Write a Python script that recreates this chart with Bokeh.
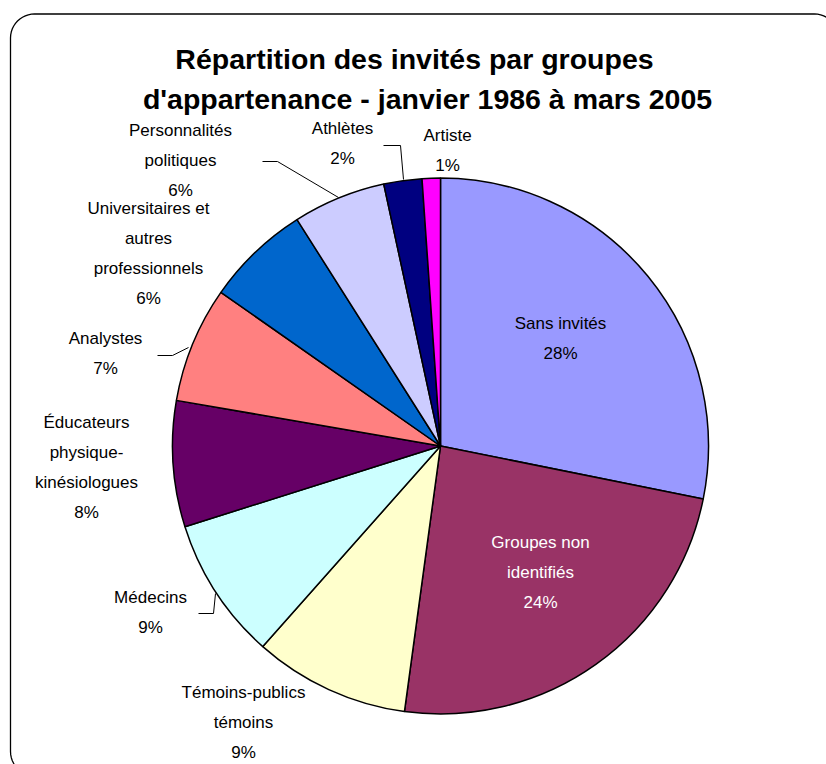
import math
from bokeh.plotting import figure
from bokeh.models import Range1d, ColumnDataSource
from bokeh.core.properties import value
from bokeh.embed import file_html
from bokeh.resources import INLINE

# ---- data ----
categories = ["Sans invités", "Groupes non\nidentifiés", "Témoins-publics\ntémoins", "Médecins",
              "Éducateurs\nphysique-\nkinésiologues", "Analystes",
              "Universitaires et\nautres\nprofessionnels", "Personnalités\npolitiques",
              "Athlètes", "Artiste"]
shares = [28.2, 24.0, 9.4, 8.6, 7.6, 7.0, 6.3, 5.6, 2.3, 1.1]
colors = ["#9999FF", "#993366", "#FFFFCC", "#CCFFFF", "#660066", "#FF8080",
          "#0066CC", "#CCCCFF", "#000080", "#FF00FF"]
title_lines = ["Répartition des invités par groupes", "d'appartenance - janvier 1986 à mars 2005"]

# ---- layout (page pixel coordinates) ----
W, H = 826, 764
PAGE_H = 764
def Y(py):
    return PAGE_H - py

cx, cy, R = 440, Y(445.5), 268

label_pos = {  # center x, first line center y (page px)
    0: (560, 323), 1: (540, 542), 2: (243, 692), 3: (150, 597), 4: (86, 422),
    5: (105, 338), 6: (148, 208), 7: (180, 130), 8: (342, 128), 9: (447, 135),
}
label_color = {1: "white"}
LINE_H = 30

leaders = [
    [(262, 161), (277, 161), (338, 197)],
    [(383, 145), (400, 145), (403, 179)],
    [(157, 355), (172, 355), (188, 347)],
    [(198, 613), (213, 613), (215, 593)],
]

p = figure(width=W, height=H, output_backend="svg", toolbar_location=None,
           x_range=Range1d(0, W), y_range=Range1d(Y(H), Y(0)),
           min_border=0, background_fill_color="white", border_fill_color="white")
p.axis.visible = False
p.grid.visible = False
p.outline_line_color = None

# rounded border
def rounded_rect(x0, y0, x1, y1, r, n=12):
    xs, ys = [], []
    corners = [((x1 - r, y0 + r), -90, 0), ((x1 - r, y1 - r), 0, 90),
               ((x0 + r, y1 - r), 90, 180), ((x0 + r, y0 + r), 180, 270)]
    for (ccx, ccy), a0, a1 in corners:
        for k in range(n + 1):
            a = math.radians(a0 + (a1 - a0) * k / n)
            xs.append(ccx + r * math.cos(a))
            ys.append(Y(ccy + r * math.sin(a)))
    xs.append(xs[0]); ys.append(ys[0])
    return xs, ys

bx, by = rounded_rect(10, 13.5, 838, 775, 24)
p.line(bx, by, line_color="black", line_width=1.3)

# wedges
total = sum(shares)
starts, ends = [], []
cum = 0.0
for v in shares:
    a_start = math.radians(90 - (cum + v) / total * 360)
    a_end = math.radians(90 - cum / total * 360)
    starts.append(a_start); ends.append(a_end)
    cum += v

src = ColumnDataSource(dict(start=starts, end=ends, color=colors))
p.wedge(x=cx, y=cy, radius=R, start_angle="start", end_angle="end", fill_color="color",
        line_color="black", line_width=1.5, source=src)

# leader lines
for pts in leaders:
    p.line([q[0] for q in pts], [Y(q[1]) for q in pts], line_color="black", line_width=1)

# labels
tx, ty, tt, tc = [], [], [], []
for i, (cat, v) in enumerate(zip(categories, shares)):
    lines = cat.split("\n") + [f"{round(v / total * 100)}%"]
    x0, y0 = label_pos[i]
    for k, ln in enumerate(lines):
        tx.append(x0); ty.append(Y(y0 + k * LINE_H)); tt.append(ln)
        tc.append(label_color.get(i, "black"))
p.text(x=tx, y=ty, text=tt, text_color=tc, text_font=value("Liberation Sans"),
       text_font_size="17px", text_align="center", text_baseline="middle")

# title
p.text(x=[414, 427], y=[Y(58), Y(98)], text=title_lines, text_font=value("Liberation Sans"),
       text_font_style="bold", text_font_size="28.5px", text_align="center",
       text_baseline="middle", text_color="black")

open("out.html", "w").write(file_html(p, INLINE))
